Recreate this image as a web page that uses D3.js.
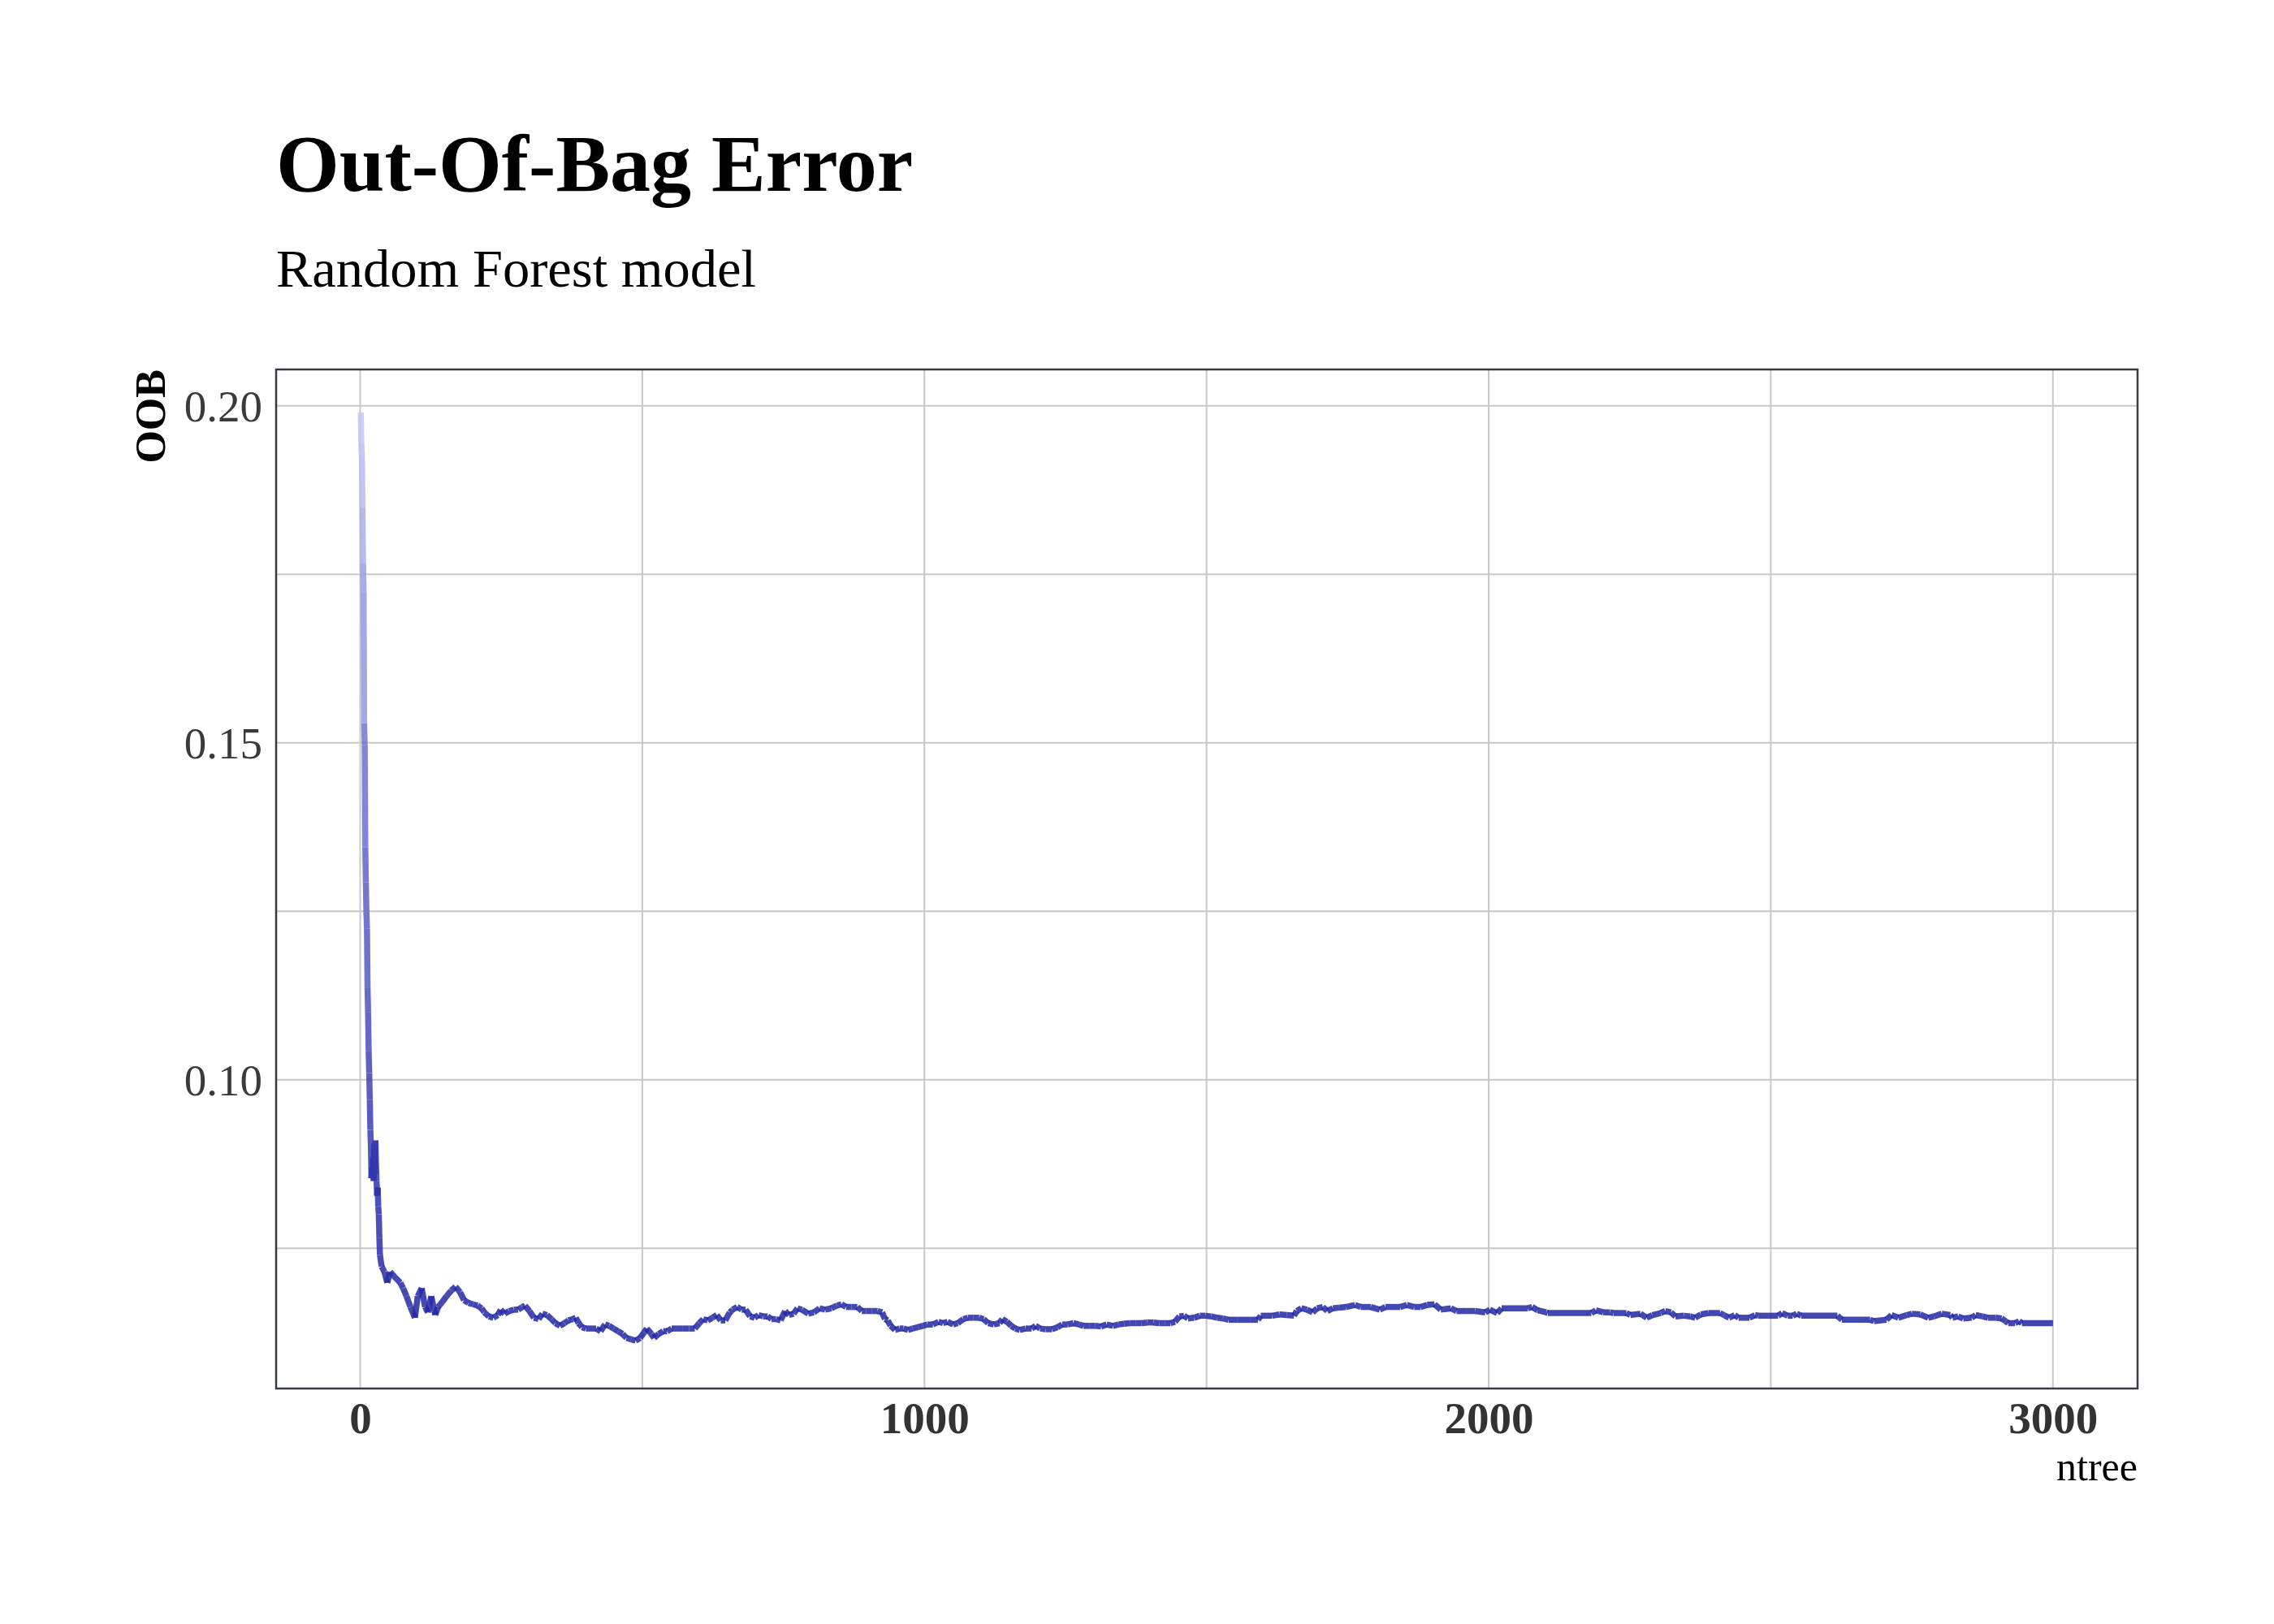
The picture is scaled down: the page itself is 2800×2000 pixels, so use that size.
<!DOCTYPE html>
<html>
<head>
<meta charset="utf-8">
<script src="https://cdn.jsdelivr.net/npm/d3@7"></script>
<style>
  html, body { margin: 0; padding: 0; background: #ffffff; }
  svg { display: block; }
  text { font-family: "Liberation Serif", "Times New Roman", serif; }
</style>
</head>
<body>
<script>
// ---------------- data ----------------
const titleText = "Out-Of-Bag Error";
const subtitleText = "Random Forest model";
const xTitle = "ntree";
const yTitle = "OOB";

const xTickLabels = [0, 1000, 2000, 3000];
const xGridValues = [0, 500, 1000, 1500, 2000, 2500, 3000];
const yTickLabels = [0.10, 0.15, 0.20];
const yGridValues = [0.075, 0.10, 0.125, 0.15, 0.175, 0.20];

const ntree = [1,2,3,4,5,6,7,8,9,10,11,12,13,14,15,16,17,18,19,20,21,22,23,24,25,26,27,28,29,30,31,32,33,34,35,
  38,43,48,53,64,71,76,82,89,97,102,109,115,120,126,133,138,146,153,161,169,177,184,192,200,208,215,220,228,236,
  244,249,256,264,272,280,287,292,300,308,316,323,331,339,346,354,362,369,377,382,387,393,400,411,418,426,434,441,
  449,457,465,472,480,488,496,503,508,516,521,529,537,544,552,562,572,583,593,601,608,616,624,632,639,647,655,660,
  668,676,683,691,699,706,714,722,729,737,745,753,760,768,775,783,794,804,814,824,835,845,853,861,871,881,889,897,
  907,917,925,930,935,940,948,956,963,971,979,989,997,1005,1015,1025,1033,1041,1051,1059,1069,1077,1087,1097,1105,
  1113,1123,1133,1138,1146,1154,1161,1169,1179,1190,1197,1205,1215,1226,1236,1244,1254,1264,1274,1282,1292,1303,
  1313,1323,1334,1344,1354,1364,1375,1385,1395,1406,1416,1426,1436,1444,1452,1460,1467,1478,1488,1498,1508,1519,
  1529,1539,1555,1578,1591,1596,1616,1629,1642,1655,1660,1668,1678,1688,1696,1706,1714,1724,1735,1747,1763,1773,
  1791,1807,1817,1843,1855,1868,1879,1891,1904,1915,1933,1943,1961,1976,1994,2002,2015,2023,2069,2077,2087,2102,
  2105,2182,2190,2203,2215,2221,2244,2251,2269,2280,2290,2305,2313,2323,2331,2346,2357,2366,2376,2390,2410,2417,
  2426,2436,2443,2462,2472,2478,2513,2520,2530,2539,2546,2554,2618,2626,2676,2683,2705,2714,2726,2741,2750,2765,
  2779,2789,2803,2818,2822,2832,2841,2856,2863,2875,2885,2899,2909,2916,2921,2933,2940,2945,3000];

const oob = [0.1990,0.1945,0.1925,0.1850,0.1766,0.1723,0.1529,0.1495,0.1345,0.1293,0.1250,0.1224,0.1137,0.1100,0.1043,
  0.1010,0.0970,0.0926,0.0900,0.0854,0.0870,0.0860,0.0885,0.0850,0.0905,0.0860,0.0910,0.0875,0.0850,0.0828,0.0840,
  0.0812,0.0800,0.0765,0.0740,
  0.0723,0.0715,0.0699,0.0715,0.0705,0.0699,0.0691,0.0679,0.0663,0.0647,0.0679,0.0691,0.0663,0.0655,0.0679,0.0651,
  0.0663,0.0671,0.0679,0.0687,0.0693,0.0685,0.0673,0.0669,0.0667,0.0665,0.0661,0.0655,0.0649,0.0647,
  0.0651,0.0659,0.0653,0.0657,0.0659,0.0659,0.0663,0.0665,0.0657,0.0647,0.0645,0.0653,0.0651,0.0645,0.0639,0.0635,
  0.0639,0.0643,0.0645,0.0647,0.0639,0.0633,0.0631,0.0631,0.0631,0.0627,0.0637,0.0635,
  0.0631,0.0627,0.0623,0.0617,0.0615,0.0613,0.0617,0.0625,0.0631,0.0623,0.0617,0.0623,0.0627,0.0627,0.0631,0.0631,
  0.0631,0.0631,0.0631,0.0639,0.0645,0.0643,0.0647,0.0651,0.0643,0.0643,0.0655,0.0659,
  0.0663,0.0659,0.0659,0.0649,0.0647,0.0651,0.0649,0.0649,0.0645,0.0645,0.0643,0.0657,0.0651,0.0653,0.0661,0.0659,
  0.0653,0.0655,0.0661,0.0659,0.0661,0.0665,0.0667,0.0663,0.0663,0.0663,0.0657,0.0657,
  0.0657,0.0657,0.0655,0.0645,0.0643,0.0635,0.0629,0.0631,0.0631,0.0629,0.0631,0.0633,0.0635,0.0637,0.0637,0.0641,
  0.0639,0.0641,0.0637,0.0639,0.0645,0.0647,0.0647,0.0647,0.0645,
  0.0639,0.0637,0.0639,0.0645,0.0641,0.0635,0.0631,0.0629,0.0631,0.0631,0.0635,0.0631,0.0630,0.0630,0.0633,0.0637,
  0.0637,0.0639,0.0637,0.0635,0.0635,0.0635,
  0.0634,0.0637,0.0635,0.0637,0.0638,0.0639,0.0639,0.0639,0.0640,0.0640,0.0639,0.0639,0.0639,0.0641,0.0649,0.0650,
  0.0646,0.0647,0.0650,0.0650,0.0649,0.0647,
  0.0646,0.0644,0.0644,0.0644,0.0644,0.0650,0.0650,0.0652,0.0651,0.0650,0.0657,0.0661,0.0659,0.0655,0.0661,0.0663,
  0.0657,0.0661,0.0662,0.0663,0.0666,0.0663,
  0.0663,0.0659,0.0663,0.0663,0.0666,0.0663,0.0663,0.0666,0.0667,0.0659,0.0661,0.0657,0.0657,0.0657,0.0655,0.0659,
  0.0654,0.0661,0.0661,0.0663,0.0658,0.0655,
  0.0654,0.0654,0.0658,0.0655,0.0655,0.0654,0.0654,0.0651,0.0653,0.0647,0.0651,0.0654,0.0657,0.0655,0.0649,0.0650,
  0.0649,0.0647,0.0652,0.0654,0.0654,0.0651,
  0.0647,0.0651,0.0647,0.0647,0.0651,0.0650,0.0650,0.0654,0.0650,0.0650,0.0653,0.0650,0.0650,0.0644,0.0644,0.0642,
  0.0644,0.0651,0.0647,0.0651,0.0653,0.0652,
  0.0647,0.0649,0.0653,0.0651,0.0647,0.0649,0.0646,0.0647,0.0651,0.0649,0.0647,0.0647,0.0646,0.0642,0.0639,0.0639,
  0.0642,0.0639,0.0639];

// colour stops for the gradient by OOB value
const colorStopValues = [0.06, 0.08, 0.10, 0.12, 0.15, 0.175, 0.20];
const colorStopColors = ["#1f24a0", "#2b30aa", "#3e42b6", "#5558c3", "#6d70d0", "#989be2", "#c6caf2"];

// ---------------- layout ----------------
const W = 2800, H = 2000;
const panel = { left: 340, right: 2632, top: 455, bottom: 1710 };

const svg = d3.select("body").append("svg")
  .attr("width", W).attr("height", H)
  .attr("viewBox", `0 0 ${W} ${H}`);

svg.append("rect").attr("width", W).attr("height", H).attr("fill", "#ffffff");

const x = d3.scaleLinear().domain([-149, 3150]).range([panel.left, panel.right]);
const y = d3.scaleLinear().domain([0.0542, 0.2054]).range([panel.bottom, panel.top]);
const color = d3.scaleLinear().domain(colorStopValues).range(colorStopColors).interpolate(d3.interpolateLab);

// grid
const grid = svg.append("g");
grid.selectAll("line.gy").data(yGridValues).join("line")
  .attr("x1", panel.left).attr("x2", panel.right)
  .attr("y1", d => y(d)).attr("y2", d => y(d))
  .attr("stroke", "#c8c8c8").attr("stroke-width", 2);
grid.selectAll("line.gx").data(xGridValues).join("line")
  .attr("y1", panel.top).attr("y2", panel.bottom)
  .attr("x1", d => x(d)).attr("x2", d => x(d))
  .attr("stroke", "#c8c8c8").attr("stroke-width", 2);

// line as coloured, translucent segments
const pts = ntree.map((n, i) => ({ n, v: oob[i] }));
const segs = d3.pairs(pts);
svg.append("g").selectAll("line").data(segs).join("line")
  .attr("x1", d => x(d[0].n)).attr("y1", d => y(d[0].v))
  .attr("x2", d => x(d[1].n)).attr("y2", d => y(d[1].v))
  .attr("stroke", d => color(d[0].v))
  .attr("stroke-opacity", 0.85)
  .attr("stroke-width", 7.5)
  .attr("stroke-linecap", "butt");

// panel border
svg.append("rect")
  .attr("x", panel.left).attr("y", panel.top)
  .attr("width", panel.right - panel.left).attr("height", panel.bottom - panel.top)
  .attr("fill", "none").attr("stroke", "#363c42").attr("stroke-width", 2.5);

// axes (labels only, no ticks/domain)
const xAxis = d3.axisBottom(x).tickValues(xTickLabels).tickSize(0).tickPadding(0).tickFormat(d3.format("d"));
const gx = svg.append("g").attr("transform", `translate(0,${panel.bottom})`).call(xAxis);
gx.select(".domain").remove();
gx.selectAll("text")
  .attr("y", 55).attr("dy", null)
  .attr("font-family", "Liberation Serif, Times New Roman, serif")
  .attr("font-size", 55).attr("font-weight", "bold").attr("fill", "#333333");

const yAxis = d3.axisLeft(y).tickValues(yTickLabels).tickSize(0).tickPadding(0).tickFormat(d3.format(".2f"));
const gy = svg.append("g").attr("transform", `translate(${panel.left - 17},0)`).call(yAxis);
gy.select(".domain").remove();
gy.selectAll("text")
  .attr("x", 0).attr("dy", "0.34em")
  .attr("font-family", "Liberation Serif, Times New Roman, serif")
  .attr("font-size", 55).attr("fill", "#3a3a3a");

// axis titles
svg.append("text")
  .attr("x", panel.right).attr("y", 1823)
  .attr("text-anchor", "end")
  .attr("font-size", 50).attr("fill", "#000")
  .text(xTitle);

svg.append("text")
  .attr("transform", `translate(203,${panel.top}) rotate(-90)`)
  .attr("text-anchor", "end")
  .attr("font-size", 52).attr("font-weight", "bold").attr("fill", "#000")
  .text(yTitle);

// title and subtitle
svg.append("text")
  .attr("x", panel.left).attr("y", 235)
  .attr("font-size", 100).attr("font-weight", "bold").attr("fill", "#000")
  .text(titleText);

svg.append("text")
  .attr("x", panel.left).attr("y", 353)
  .attr("font-size", 66.5).attr("fill", "#000")
  .text(subtitleText);
</script>
</body>
</html>
